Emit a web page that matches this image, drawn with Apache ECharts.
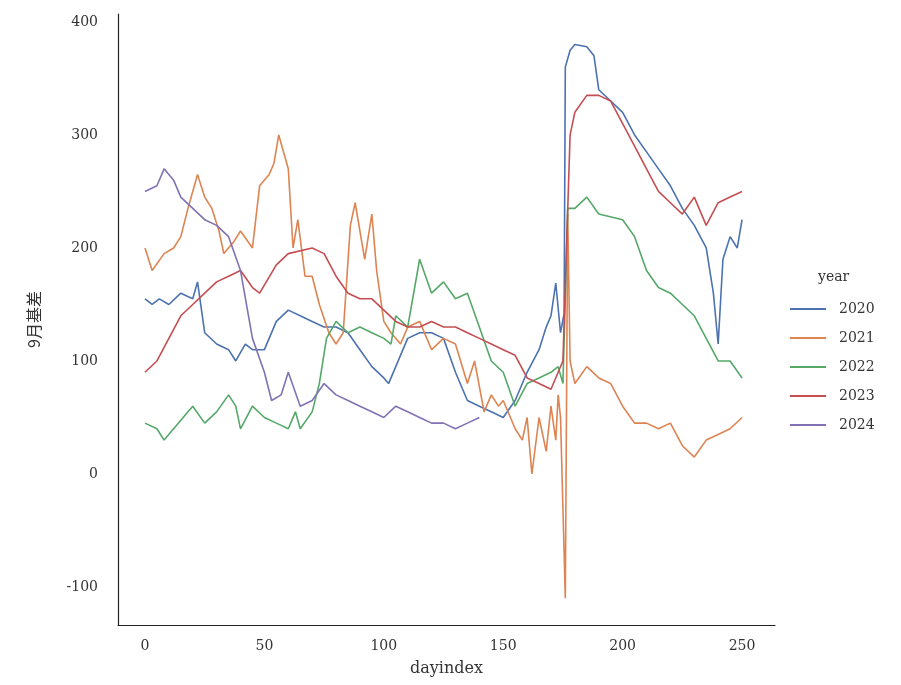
<html>
<head>
<meta charset="utf-8">
<script src="https://cdn.jsdelivr.net/npm/echarts@6/dist/echarts.min.js"></script>
<style>body{margin:0;background:#fff}</style>
</head>
<body>
<div id="main" style="width:901px;height:685px;"></div>
<script>
const years = ['2020', '2021', '2022', '2023', '2024'];
const colors = ['#4c72b0', '#dd8452', '#55a868', '#c44e52', '#8172b3'];
const xTicks = [0, 50, 100, 150, 200, 250];
const yTicks = [-100, 0, 100, 200, 300, 400];

const d2020 = [0,3,6,10,15,20,22,25,30,35,38,42,45,50,55,60,65,70,75,80,85,90,95,100,102,105,110,115,120,125,130,135,140,145,150,155,160,165,168,170,172,174,175.5,176,178,180,185,188,190,195,200,205,210,215,220,225,230,235,238,240,242,245,248,250];
const v2020 = [155,150,155,150,160,155,170,125,115,110,100,115,110,110,135,145,140,135,130,130,125,110,95,85,80,95,120,125,125,120,90,65,60,55,50,65,90,110,130,140,169,125,142,360,375,380,378,370,340,330,320,300,285,270,255,235,220,200,160,115,190,210,200,225];

const d2021 = [0,3,8,12,15,18,22,25,28,31,33,37,40,45,48,52,54,56,60,62,64,67,70,73,77,80,83,86,88,92,95,97,100,103,107,110,115,120,125,130,135,138,142,145,148,150,155,158,160,162,165,168,170,172,173,174,176,177,178,180,185,190,195,200,205,210,215,220,225,230,235,240,245,250];
const v2021 = [200,180,195,200,210,235,265,245,235,215,195,205,215,200,255,265,275,300,270,200,225,175,175,150,125,115,125,220,240,190,230,180,135,125,115,130,135,110,120,115,80,100,55,70,60,65,40,30,50,0,50,20,60,30,70,50,-110,230,100,80,95,85,80,60,45,45,40,45,25,15,30,35,40,50];

const d2022 = [0,5,8,12,18,20,25,30,35,38,40,45,50,55,60,63,65,70,73,76,80,85,90,95,100,103,105,110,115,120,125,130,135,140,145,150,155,160,165,170,173,175,177,180,185,190,200,205,210,215,220,225,230,235,240,245,250];
const v2022 = [45,40,30,40,55,60,45,55,70,60,40,60,50,45,40,55,40,55,80,120,135,125,130,125,120,115,140,130,190,160,170,155,160,130,100,90,60,80,85,90,95,80,235,235,245,230,225,210,180,165,160,150,140,120,100,100,85];

const d2023 = [0,5,10,15,20,25,30,35,40,45,48,55,60,70,75,80,85,90,95,100,105,110,115,120,125,130,135,140,145,150,155,160,165,170,173,175,178,180,185,190,195,200,205,210,215,220,225,230,235,240,245,250];
const v2023 = [90,100,120,140,150,160,170,175,180,165,160,185,195,200,195,175,160,155,155,145,135,130,130,135,130,130,125,120,115,110,105,85,80,75,90,100,300,320,335,335,330,310,290,270,250,240,230,245,220,240,245,250];

const d2024 = [0,5,8,12,15,20,25,30,35,40,45,50,53,57,60,65,70,75,80,85,90,95,100,105,110,115,120,125,130,135,140];
const v2024 = [250,255,270,260,245,235,225,220,210,180,120,90,65,70,90,60,65,80,70,65,60,55,50,60,55,50,45,45,40,45,50];

const days = [d2020, d2021, d2022, d2023, d2024];
const vals = [v2020, v2021, v2022, v2023, v2024];
const font = 'DejaVu Serif';

const chart = echarts.init(document.getElementById('main'));
chart.setOption({
  animation: false,
  textStyle: { fontFamily: font },
  grid: { left: 118, top: 14, right: 126, bottom: 60 },
  xAxis: {
    type: 'value', min: -11.3, max: 263.8,
    name: 'dayindex', nameLocation: 'middle', nameGap: 36,
    nameTextStyle: { fontSize: 16, color: '#333', fontFamily: font },
    axisLine: { onZero: false, lineStyle: { color: '#222', width: 1.2 } },
    axisTick: { show: false }, splitLine: { show: false },
    axisLabel: { customValues: xTicks, color: '#333', fontSize: 14, margin: 14 }
  },
  yAxis: {
    type: 'value', min: -133.6, max: 407,
    name: '9月基差', nameLocation: 'middle', nameGap: 76,
    nameTextStyle: { fontSize: 16, color: '#333', fontFamily: 'Noto Sans CJK SC' },
    axisLine: { show: true, onZero: false, lineStyle: { color: '#222', width: 1.2 } },
    axisTick: { show: false }, splitLine: { show: false },
    axisLabel: { customValues: yTicks, color: '#333', fontSize: 14, margin: 20 }
  },
  legend: {
    orient: 'vertical', left: 785, top: 297, itemGap: 15,
    itemWidth: 36, itemHeight: 2, icon: 'rect',
    textStyle: { fontSize: 14, color: '#333', padding: [0, 0, 0, 8] }
  },
  graphic: [{ type: 'text', left: 818, top: 270, style: { text: 'year', fontSize: 14, fill: '#333', fontFamily: font } }],
  series: years.map((y, i) => ({
    name: y, type: 'line', showSymbol: false, color: colors[i],
    lineStyle: { width: 1.6 },
    data: days[i].map((d, j) => [d, vals[i][j]])
  }))
});
</script>
</body>
</html>
